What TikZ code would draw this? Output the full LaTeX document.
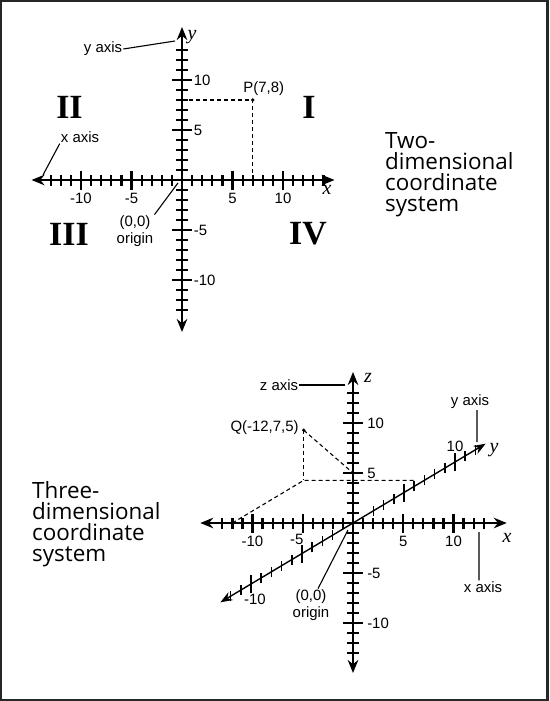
\documentclass[tikz,border=0pt]{standalone}
\usepackage{fontspec}
\setmainfont{Liberation Sans}
\newfontfamily\romfont{Liberation Serif}
\newfontfamily\capfont{Open Sans}
\usetikzlibrary{arrows.meta,positioning}

\begin{document}
\begin{tikzpicture}[
    x=1bp, y=-1bp,
    font=\fontsize{15}{16.5}\selectfont,
    frame/.style={draw=black!85, line width=2.5bp},
    axline/.style={line width=2.3bp, {Stealth[length=13bp,width=10.5bp]}-{Stealth[length=13bp,width=10.5bp]}},
    obline/.style={line width=1.4bp, {Stealth[length=12bp,width=9bp]}-{Stealth[length=12bp,width=9bp]}},
    mintick/.style={line width=2.2bp},
    majtick/.style={line width=2.2bp},
    obtick/.style={line width=1.6bp},
    guide/.style={line width=1.1bp, dash pattern=on 4bp off 3bp},
    pointer/.style={line width=1.1bp},
    num/.style={inner sep=1bp},
    lbl/.style={inner sep=1bp, align=center},
    quad/.style={font=\romfont\bfseries\fontsize{34}{36}\selectfont},
    axname/.style={font=\romfont\itshape\fontsize{20}{22}\selectfont, inner sep=0pt},
    caption/.style={font=\capfont\fontsize{22.5}{21.2}\selectfont, align=left, inner sep=0pt, anchor=north west}
]
\useasboundingbox (0,0) rectangle (550,701);
\draw[frame] (1,1) rectangle (547.5,700);

% two-dimensional system
\begin{scope}[shift={(182,180)}, x=10.1bp, y=10bp]
  \draw[axline] (-14.9,0) -- (15.1,0);
  \draw[axline] (0,-15.2) -- (0,15.3);
  \foreach \i in {-13,...,-1,1,2,...,14}
    \draw[mintick] (\i,0) +(0pt,-5.5bp) -- +(0pt,5.5bp);
  \foreach \i in {-13,...,-1,1,2,...,13}
    \draw[mintick] (0,\i) +(-6bp,0pt) -- +(6bp,0pt);
  \foreach \v/\n in {-10/a,-5/b,5/c,10/d} {
    \draw[majtick] (\v,0) +(0pt,-9.5bp) -- +(0pt,9.5bp);
    \draw[majtick] (0,\v) +(-10bp,0pt) -- +(10bp,0pt);
    \node[num] (tx\n) at (\v,-1.8) {\v};
    \node[num, anchor=west] (ty\n) at (1.05,\v) {\v};
  }
  \coordinate (P) at (7,8);
  \coordinate (Py) at (0,8);
  \coordinate (Px) at (7,0);
  \coordinate (o2) at (-0.4,-0.3);
  \draw[guide] (Py) -- (P) -- (Px);
  \fill (P) circle (1.9bp);
  \node[lbl, above=3bp of P, xshift=11bp] (plbl) {P(7,8)};
\end{scope}

\node[axname] (ny2) at (192,37) {y};
\node[axname] (nx2) at (327,190) {x};
\node[quad] (q2) at (69.5,107) {II};
\node[quad] (q1) at (309,107) {I};
\node[quad] (q3) at (69,234) {III};
\node[quad] (q4) at (308,234) {IV};

\node[lbl] (yax2) at (103,49) {y axis};
\coordinate (ytip2) at (175,41);
\draw[pointer] (yax2.east) -- (ytip2);
\node[lbl] (xax2) at (80,137) {x axis};
\coordinate (xtip2) at (43,175);
\draw[pointer] (xax2.south west) -- (xtip2);
\node[lbl] (orig2) at (135,231) {(0,0)\\origin};
\draw[pointer] (orig2.north east) -- (o2);

\node[caption] (cap2) at (385,132) {Two-\\dimensional\\coordinate\\system};

% three-dimensional system
\begin{scope}[shift={(353,523)}, x={(10.05bp,0bp)}, y={(10.2bp,6.1bp)}, z={(0bp,10bp)}]
  \coordinate (Q) at (-12,7,5);
  \coordinate (Qf) at (-12,7,0);
  \coordinate (Qy) at (0,7,0);
  \coordinate (Qx) at (-12,0,0);
  \coordinate (Qz) at (0,0,5);
  \coordinate (o3) at (-0.5,0,-0.7);
  \draw[guide] (Q) -- (Qf);
  \draw[guide, shorten >=8bp] (Qx) -- (Qf) -- (Qy);
  \draw[guide] (Q) -- (Qz);
  \fill (Q) circle (1.9bp);
  \draw[axline] (-15.2,0,0) -- (15.3,0,0);
  \draw[axline] (0,0,-15) -- (0,0,15.1);
  \draw[obline] (0,-13,0) -- (0,13,0);
  \foreach \i in {-13,...,-1,1,2,...,13} {
    \draw[mintick] (\i,0,0) +(0pt,-5.5bp) -- +(0pt,5.5bp);
    \draw[mintick] (0,0,\i) +(-6bp,0pt) -- +(6bp,0pt);
  }
  \foreach \i in {-12,...,-2,2,3,...,12}
    \draw[obtick] (0,\i,0) +(0pt,-5bp) -- +(0pt,5bp);
  \foreach \v/\n in {-10/a,-5/b,5/c,10/d} {
    \draw[majtick] (\v,0,0) +(0pt,-9.5bp) -- +(0pt,9.5bp);
    \draw[majtick] (0,0,\v) +(-10bp,0pt) -- +(10bp,0pt);
    \draw[obtick] (0,\v,0) +(0pt,-9bp) -- +(0pt,9bp);
    \node[num, anchor=west] (tz\n) at (1.3,0,\v) {\v};
  }
  \node[num] (txa3) at (-10,0,-1.8) {-10};
  \node[num] (txb3) at (-5.6,0,-1.6) {-5};
  \node[num] (txc3) at (5,0,-1.8) {5};
  \node[num] (txd3) at (10,0,-1.8) {10};
  \node[num] (tyd3) at (0,10,1.6) {10};
  \node[num, xshift=4bp] (tya3) at (0,-10,-1.5) {-10};
  \node[lbl, left=4bp of Q, yshift=3bp] (qlbl) {Q(-12,7,5)};
\end{scope}

\node[axname] (nz3) at (368,378) {z};
\node[axname] (ny3) at (494,450) {y};
\node[axname] (nx3) at (507,538) {x};

\node[lbl] (zax3) at (279,385) {z axis};
\coordinate (ztip3) at (345,385);
\draw[pointer] (zax3.east) -- (ztip3);
\node[lbl] (yax3) at (470,402) {y axis};
\coordinate (ytip3) at (477,442);
\draw[pointer] ([xshift=7bp]yax3.south) -- (ytip3);
\node[lbl] (xax3) at (483,587) {x axis};
\coordinate (xtip3) at (479,532);
\draw[pointer] ([xshift=-4bp]xax3.north) -- (xtip3);
\node[lbl] (orig3) at (311,605) {(0,0)\\origin};
\draw[pointer] ([xshift=7bp]orig3.north) -- (o3);

\node[caption] (cap3) at (32,481) {Three-\\dimensional\\coordinate\\system};
\end{tikzpicture}
\end{document}
